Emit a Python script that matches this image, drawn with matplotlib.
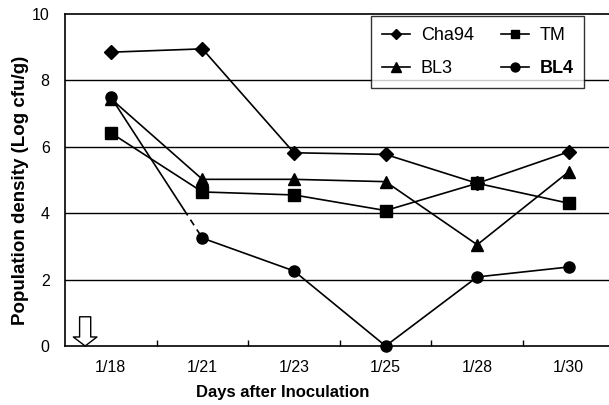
import matplotlib
matplotlib.use("Agg")
import matplotlib.pyplot as plt
import numpy as np

plt.rcParams['font.family'] = ['Liberation Sans', 'DejaVu Sans']

dates = ["1/18", "1/21", "1/23", "1/25", "1/28", "1/30"]
cha94 = [8.85, 8.95, 5.82, 5.77, 4.9, 5.85]
tm = [6.42, 4.64, 4.55, 4.08, 4.9, 4.3]
bl3 = [7.45, 5.02, 5.02, 4.95, 3.05, 5.25]
bl4 = [7.5, 3.25, 2.26, 0.0, 2.08, 2.38]
yticks = [0, 2, 4, 6, 8, 10]

fig = plt.figure(figsize=(6.09, 4.05), dpi=100)
ax = fig.add_axes([65/609, 59/405, 1 - 65/609, (346-14)/405])

x = np.arange(len(dates))
kw = dict(color='black', lw=1.2, clip_on=False)
ax.plot(x, cha94, marker='D', ms=7, label='Cha94', **kw)
ax.plot(x, tm, marker='s', ms=8, label='TM', **kw)
ax.plot(x, bl3, marker='^', ms=9, label='BL3', **kw)

# BL4: first segment partly dashed
f = 0.8
xm = x[0] + f * (x[1] - x[0])
ym = bl4[0] + f * (bl4[1] - bl4[0])
ax.plot([x[0], xm], [bl4[0], ym], color='black', lw=1.2)
ax.plot([xm, x[1]], [ym, bl4[1]], color='black', lw=1.2, dashes=(4, 3))
ax.plot(x[1:], bl4[1:], marker='o', ms=8, **kw)
ax.plot(x[0], bl4[0], marker='o', ms=8, color='black', ls='none', clip_on=False)
ax.plot([], [], marker='o', ms=8, color='black', lw=1.2, label='BL4')

ax.set_xlim(-0.5, -0.5 + (609 - 65) / 91.6)
ax.set_ylim(0, 10)
ax.set_yticks(yticks)
ax.set_xticks(x)
ax.set_xticklabels(dates)
ax.set_xticks(np.arange(len(dates) - 1) + 0.5, minor=True)
ax.tick_params(axis='x', which='major', length=0, pad=10, labelsize=11.5)
ax.tick_params(axis='x', which='minor', direction='in', length=4, width=1)
ax.tick_params(axis='y', length=0, pad=11, labelsize=11.5)
for yv in yticks[1:-1]:
    ax.axhline(yv, color='black', lw=1.0, zorder=0)

ax.spines['right'].set_visible(False)
for s in ['left', 'top', 'bottom']:
    ax.spines[s].set_linewidth(1.2)

ax.set_xlabel('Days after Inoculation', fontsize=12, fontweight='bold')
ax.xaxis.set_label_coords((283 - 65) / 544, -(392 - 346) / 332)
ax.set_ylabel('Population density (Log cfu/g)', fontsize=13.5, fontweight='bold')
ax.yaxis.set_label_coords((21 - 65) / 544, (346 - 190) / 332)
ax.yaxis.label.set_va('center')
ax.xaxis.label.set_va('center')

# arrow marking inoculation
ax.annotate('', xy=(-0.28, 0.0), xytext=(-0.28, 0.88),
            arrowprops=dict(arrowstyle='simple,head_width=1.7,head_length=0.65,tail_width=0.8',
                            fc='white', ec='black', lw=1.0, shrinkA=0, shrinkB=0),
            annotation_clip=False)

handles, labels = ax.get_legend_handles_labels()
order = [0, 2, 1, 3]
leg = ax.legend([handles[i] for i in order], [labels[i] for i in order], ncol=2,
                loc='upper left', bbox_to_anchor=((371 - 65) / 544, (346 - 16) / 332),
                borderaxespad=0, frameon=True, fancybox=False, edgecolor='black',
                fontsize=13, handlelength=1.55, columnspacing=1.5, labelspacing=0.9,
                borderpad=0.6, handletextpad=0.6, markerscale=0.8)
leg.get_frame().set_linewidth(1.0)
leg.get_texts()[3].set_fontweight('bold')

fig.savefig('out.png', dpi=100)
